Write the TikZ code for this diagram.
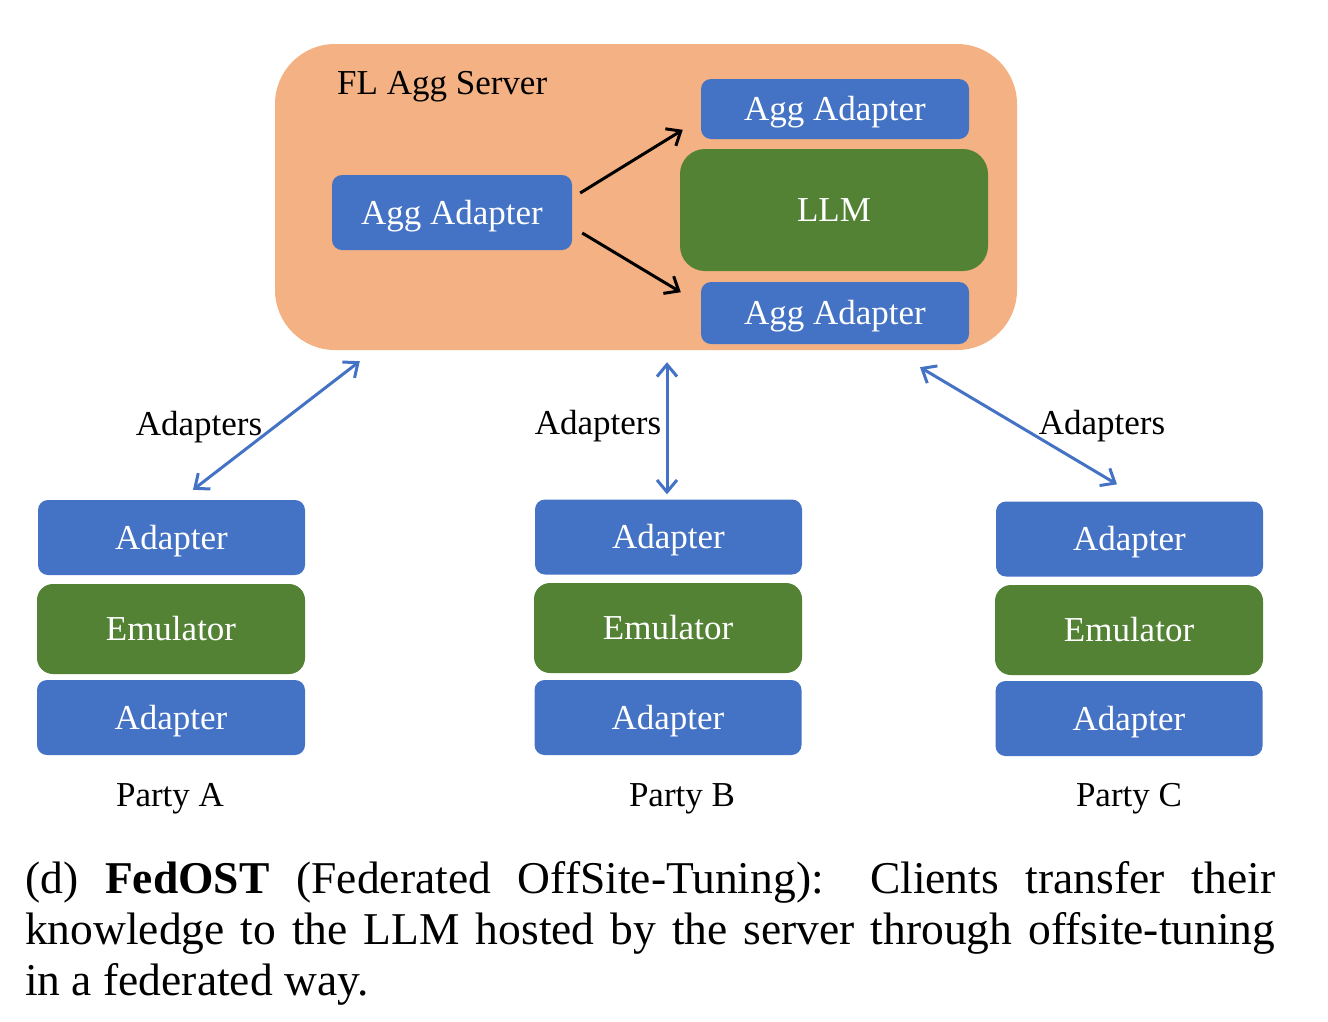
\documentclass[tikz,border=0pt]{standalone}
\usepackage{fontspec}
\setmainfont{Liberation Serif}
\usetikzlibrary{arrows.meta,calc}
\definecolor{ablue}{HTML}{4472C4}
\definecolor{agreen}{HTML}{548235}
\definecolor{aorange}{HTML}{F4B183}
\begin{document}
\begin{tikzpicture}[x=1pt,y=-1pt,
  diag/.style={font=\fontsize{35}{42}\selectfont, text height=23pt, text depth=0pt, inner sep=0pt},
  bluebox/.style={diag, fill=ablue, text=white, rounded corners=10pt},
  greenbox/.style={diag, fill=agreen, text=white, rounded corners=16pt},
  padbox/.style={bluebox, minimum width=267pt, minimum height=75pt},
  pembox/.style={greenbox, minimum width=268pt, minimum height=90pt},
  blkarrow/.style={line width=3pt, black, -{Straight Barb[length=12pt,width=20pt]}},
  bluearrow/.style={line width=3pt, ablue, {Straight Barb[length=12pt,width=20pt]}-{Straight Barb[length=12pt,width=20pt]}}
]
\useasboundingbox (0,0) rectangle (1328,1021);
% server
\node[fill=aorange, rounded corners=60pt, minimum width=742pt, minimum height=306pt, inner sep=0pt] (server) at (646,197) {};
\node[diag, anchor=base west] (title) at (337,94) {FL Agg Server};
\node[bluebox, minimum width=240pt, minimum height=75pt] (aggL) at (452,212.5) {Agg Adapter};
\node[bluebox, minimum width=268pt, minimum height=60pt] (aggT) at (835,109) {Agg Adapter};
\node[greenbox, minimum width=308pt, minimum height=122pt, rounded corners=25pt] (llm) at (834,210) {LLM};
\node[bluebox, minimum width=268pt, minimum height=62pt] (aggB) at (835,313) {Agg Adapter};
\draw[blkarrow] ($(aggL.east)+(8,-19.5)$) -- ($(llm.north west)+(3,-19)$);
\draw[blkarrow] ($(aggL.east)+(10,20.5)$) -- ($(llm.south west)+(1,21)$);
% party A
\node[padbox] (adA1) at (171.5,537.5) {Adapter};
\node[pembox] (emA) at (171,629) {Emulator};
\node[padbox, minimum width=268pt] (adA2) at (171,717.5) {Adapter};
\node[diag] (pA) at (170,795) {Party A};
% party B
\node[padbox] (adB1) at (668.5,537) {Adapter};
\node[pembox] (emB) at (668,628) {Emulator};
\node[padbox] (adB2) at (668,717.5) {Adapter};
\node[diag] (pB) at (682,795) {Party B};
% party C
\node[padbox] (adC1) at (1129.5,539) {Adapter};
\node[pembox] (emC) at (1129,630) {Emulator};
\node[padbox] (adC2) at (1129,718.5) {Adapter};
\node[diag] (pC) at (1129,795) {Party C};
% blue arrows
\draw[bluearrow] ($(server.south west)+(85,11)$) -- ($(adA1.north)+(21.5,-10)$);
\draw[bluearrow] ($(server.south)+(21,12)$) -- ($(adB1.north)+(-1.5,-5)$);
\draw[bluearrow] ($(server.south)+(274,17)$) -- ($(adC1.north)+(-12.5,-17)$);
\node[diag] (l1) at (199,424) {Adapters};
\node[diag] (l2) at (598,423) {Adapters};
\node[diag] (l3) at (1102,423) {Adapters};
% caption
\node[anchor=base west, inner sep=0pt] (cap) at (25,893) {\parbox[t]{1250pt}{\fontsize{45.5}{51}\selectfont\hyphenpenalty=10000
(d) \textbf{FedOST} (Federated OffSite-Tuning): Clients transfer their\linebreak knowledge to the LLM hosted by the server through offsite-tuning\linebreak in a federated way.}};
\end{tikzpicture}
\end{document}
